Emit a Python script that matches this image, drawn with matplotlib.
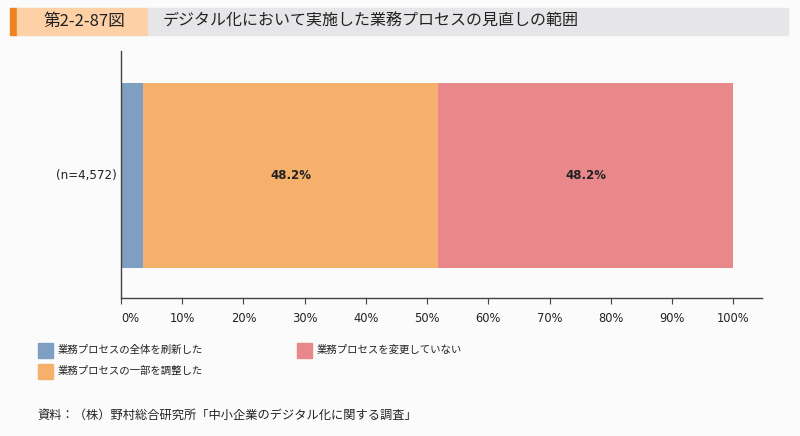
import matplotlib.pyplot as plt
from matplotlib.patches import Rectangle

plt.rcParams['font.family'] = ['Noto Sans CJK JP', 'DejaVu Sans']

# データ
category = '(n=4,572)'
series_names = ['業務プロセスの全体を刷新した', '業務プロセスの一部を調整した', '業務プロセスを変更していない']
values = [3.6, 48.2, 48.2]
colors = ['#7f9fc2', '#f5b06c', '#e8888a']
ticks = [0, 10, 20, 30, 40, 50, 60, 70, 80, 90, 100]
title = 'デジタル化において実施した業務プロセスの見直しの範囲'
fig_no = '第2-2-87図'
source = '資料：（株）野村総合研究所「中小企業のデジタル化に関する調査」'

BG = '#fbfbfb'
TXT = '#222222'
fig = plt.figure(figsize=(8, 4.36), dpi=100, facecolor=BG)

# タイトル帯
fig.patches.append(Rectangle((10/800, 1-35/436), 7/800, 27/436, transform=fig.transFigure, color='#f0831f', zorder=0))
fig.patches.append(Rectangle((17/800, 1-35/436), 131/800, 27/436, transform=fig.transFigure, color='#fdd0a6', zorder=0))
fig.patches.append(Rectangle((148/800, 1-35/436), 640/800, 27/436, transform=fig.transFigure, color='#e6e6e8', zorder=0))
fig.text(84/800, 1-21/436, fig_no, ha='center', va='center', fontsize=12, color=TXT)
fig.text(163/800, 1-21/436, title, ha='left', va='center', fontsize=11.5, color=TXT)

ax = fig.add_axes([121/800, 1-298/436, 641/800, 247/436])
ax.set_facecolor(BG)
left = 0
for v, c, name in zip(values, colors, series_names):
    ax.barh(0.496, v, left=left, height=0.749, color=c, label=name, linewidth=0)
    left += v
# 数値ラベル (大きいセグメントのみ)
left = 0
for v in values:
    if v > 10:
        ax.text(left + v/2, 0.496, f'{v:.1f}%', ha='center', va='center', fontsize=8.5,
                fontweight='bold', color=TXT, family='DejaVu Sans')
    left += v

ax.set_xlim(0, 104.7)
ax.set_ylim(0, 1)
ax.set_xticks(ticks)
ax.set_xticklabels([f'{t}%' for t in ticks], fontsize=8.3, color=TXT, family='DejaVu Sans')
ax.get_xticklabels()[0].set_horizontalalignment('left')
ax.tick_params(axis='x', direction='out', length=4, color='#444444', pad=6)
ax.set_yticks([])
ax.text(-0.65, 0.496, category, ha='right', va='center', fontsize=8.6, color=TXT, family='DejaVu Sans')
for s in ['top', 'right']:
    ax.spines[s].set_visible(False)
for s in ['left', 'bottom']:
    ax.spines[s].set_color('#444444')
    ax.spines[s].set_linewidth(1)

# 凡例
leg_pos = [(38, 350), (38, 371), (297, 350)]
for (x, y), c, name in zip(leg_pos, colors, series_names):
    fig.patches.append(Rectangle((x/800, 1-(y+7.5)/436), 15/800, 15/436, transform=fig.transFigure, color=c))
    fig.text((x+20)/800, 1-y/436, name, ha='left', va='center', fontsize=7.5, color=TXT)

fig.text(37/800, 1-415/436, source, ha='left', va='center', fontsize=8.8, color=TXT)

plt.savefig('out.png', dpi=100, facecolor=BG)
